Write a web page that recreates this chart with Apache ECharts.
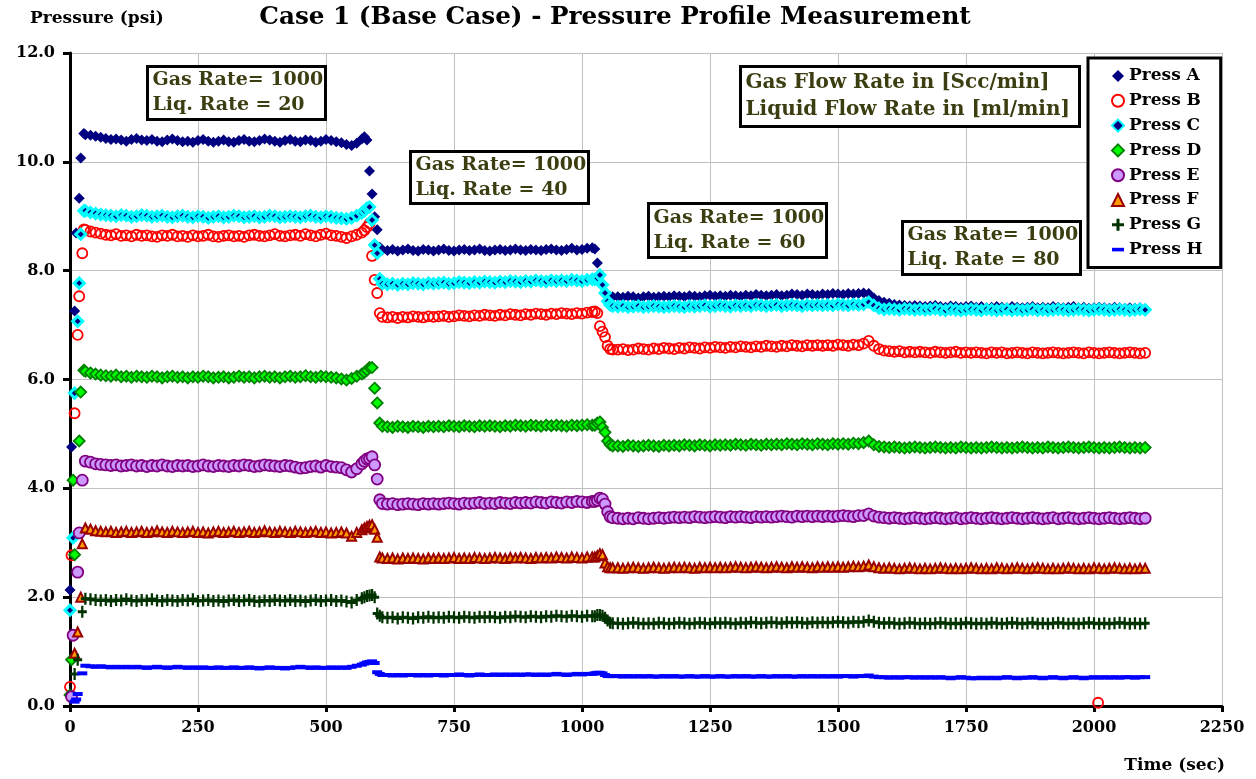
<!DOCTYPE html>
<html>
<head>
<meta charset="utf-8">
<script src="https://cdn.jsdelivr.net/npm/echarts@6/dist/echarts.min.js"></script>
<style>
  html, body { margin: 0; padding: 0; background: #ffffff; }
  #chart { width: 1256px; height: 779px; }
</style>
</head>
<body>
<div id="chart"></div>
<script>
// Sample times (sec): start-up, stage 1, step to 40, stage 2, step to 60, stages 3/4
const TIME = [
  0, 3, 6, 9, 12, 15, 18, 21, 24, 27,
  30, 40, 50, 60, 70, 80, 90, 100, 110, 120,
  130, 140, 150, 160, 170, 180, 190, 200, 210, 220,
  230, 240, 250, 260, 270, 280, 290, 300, 310, 320,
  330, 340, 350, 360, 370, 380, 390, 400, 410, 420,
  430, 440, 450, 460, 470, 480, 490, 500, 510, 520,
  530, 540, 550, 560, 570,
  575, 580, 585, 590, 595, 600, 605, 610,
  620, 630, 640, 650, 660, 670, 680, 690, 700, 710,
  720, 730, 740, 750, 760, 770, 780, 790, 800, 810,
  820, 830, 840, 850, 860, 870, 880, 890, 900, 910,
  920, 930, 940, 950, 960, 970, 980, 990, 1000, 1010,
  1020,
  1025, 1030, 1035, 1040, 1045, 1050, 1055, 1060,
  1070, 1080, 1090, 1100, 1110, 1120, 1130, 1140, 1150, 1160,
  1170, 1180, 1190, 1200, 1210, 1220, 1230, 1240, 1250, 1260,
  1270, 1280, 1290, 1300, 1310, 1320, 1330, 1340, 1350, 1360,
  1370, 1380, 1390, 1400, 1410, 1420, 1430, 1440, 1450, 1460,
  1470, 1480, 1490, 1500, 1510, 1520, 1530, 1540, 1550, 1560,
  1570, 1580, 1590, 1600, 1610, 1620, 1630, 1640, 1650, 1660,
  1670, 1680, 1690, 1700, 1710, 1720, 1730, 1740, 1750, 1760,
  1770, 1780, 1790, 1800, 1810, 1820, 1830, 1840, 1850, 1860,
  1870, 1880, 1890, 1900, 1910, 1920, 1930, 1940, 1950, 1960,
  1970, 1980, 1990, 2000, 2010, 2020, 2030, 2040, 2050, 2060,
  2070, 2080, 2090, 2100
];

// Pressure readings (psi), one value per sample time (null = no reading)
const PRESS_A = [
  2.13, 4.76, null, 7.26, 8.69, null, 9.33, 10.07, null, 10.52,
  10.50, 10.49, 10.47, 10.45, 10.43, 10.41, 10.42, 10.40, 10.38, 10.41,
  10.43, 10.40, 10.39, 10.41, 10.38, 10.37, 10.40, 10.42, 10.39, 10.37,
  10.38, 10.36, 10.39, 10.41, 10.38, 10.36, 10.38, 10.40, 10.37, 10.36,
  10.39, 10.41, 10.38, 10.37, 10.39, 10.42, 10.40, 10.38, 10.36, 10.39,
  10.41, 10.38, 10.37, 10.40, 10.39, 10.36, 10.38, 10.41, 10.39, 10.37,
  10.35, 10.32, 10.30, 10.34, 10.42,
  10.46, 10.40, 9.83, 9.41, 8.99, 8.75, 8.43, 8.38,
  8.37, 8.39, 8.36, 8.38, 8.40, 8.37, 8.36, 8.39, 8.38, 8.36,
  8.38, 8.40, 8.37, 8.36, 8.38, 8.39, 8.37, 8.38, 8.40, 8.37,
  8.36, 8.38, 8.39, 8.37, 8.38, 8.40, 8.38, 8.37, 8.39, 8.38,
  8.37, 8.39, 8.40, 8.38, 8.37, 8.39, 8.41, 8.38, 8.39, 8.41,
  8.42,
  8.40, 8.14, 7.94, 7.74, 7.59, 7.53, 7.52, 7.52,
  7.52, 7.51, 7.53, 7.52, 7.50, 7.52, 7.53, 7.51, 7.52, 7.53,
  7.52, 7.54, 7.53, 7.52, 7.54, 7.53, 7.52, 7.54, 7.55, 7.53,
  7.54, 7.53, 7.55, 7.54, 7.53, 7.55, 7.54, 7.56, 7.55, 7.54,
  7.55, 7.56, 7.54, 7.55, 7.57, 7.56, 7.55, 7.57, 7.56, 7.55,
  7.57, 7.56, 7.58, 7.57, 7.56, 7.58, 7.57, 7.58, 7.59, 7.58,
  7.50, 7.45, 7.42, 7.40, 7.38, 7.37, 7.36, 7.35, 7.36, 7.35,
  7.34, 7.35, 7.36, 7.34, 7.33, 7.35, 7.34, 7.33, 7.34, 7.35,
  7.33, 7.34, 7.32, 7.33, 7.34, 7.33, 7.32, 7.34, 7.33, 7.32,
  7.33, 7.34, 7.32, 7.33, 7.32, 7.34, 7.33, 7.32, 7.33, 7.34,
  7.32, 7.33, 7.31, 7.32, 7.33, 7.32, 7.31, 7.33, 7.32, 7.31,
  7.32, 7.31, 7.32, 7.30
];

const PRESS_B = [
  0.35, 2.77, null, 5.38, null, 6.82, 7.53, null, 8.32, 8.76,
  8.75, 8.72, 8.70, 8.68, 8.66, 8.65, 8.67, 8.64, 8.65, 8.63,
  8.66, 8.64, 8.65, 8.63, 8.62, 8.65, 8.64, 8.66, 8.63, 8.64,
  8.62, 8.65, 8.63, 8.64, 8.66, 8.63, 8.62, 8.64, 8.65, 8.63,
  8.64, 8.62, 8.65, 8.66, 8.64, 8.63, 8.65, 8.67, 8.64, 8.63,
  8.65, 8.66, 8.64, 8.67, 8.65, 8.63, 8.66, 8.68, 8.65, 8.64,
  8.62, 8.60, 8.63, 8.66, 8.70,
  8.74, 8.80, 8.87, 8.27, 7.83, 7.59, 7.22, 7.15,
  7.14, 7.15, 7.13, 7.15, 7.14, 7.16, 7.15, 7.14, 7.16, 7.15,
  7.16, 7.17, 7.15, 7.16, 7.18, 7.17, 7.16, 7.18, 7.17, 7.19,
  7.18, 7.17, 7.19, 7.18, 7.20, 7.19, 7.18, 7.20, 7.19, 7.21,
  7.20, 7.19, 7.21, 7.20, 7.22, 7.21, 7.20, 7.22, 7.21, 7.23,
  7.24,
  7.25, 7.22, 6.98, 6.88, 6.78, 6.62, 6.56, 6.55,
  6.55, 6.56, 6.54, 6.55, 6.57, 6.56, 6.55, 6.57, 6.56, 6.58,
  6.57, 6.56, 6.58, 6.57, 6.59, 6.58, 6.57, 6.59, 6.58, 6.60,
  6.59, 6.58, 6.60, 6.59, 6.61, 6.60, 6.59, 6.61, 6.60, 6.62,
  6.61, 6.60, 6.62, 6.61, 6.63, 6.62, 6.61, 6.63, 6.62, 6.63,
  6.62, 6.63, 6.62, 6.64, 6.63, 6.62, 6.64, 6.63, 6.66, 6.71,
  6.62, 6.56, 6.53, 6.52, 6.51, 6.52, 6.50, 6.51, 6.50, 6.51,
  6.50, 6.49, 6.51, 6.50, 6.49, 6.50, 6.51, 6.49, 6.50, 6.49,
  6.50, 6.49, 6.48, 6.50, 6.49, 6.50, 6.48, 6.49, 6.50, 6.49,
  6.48, 6.50, 6.49, 6.48, 6.49, 6.50, 6.49, 6.48, 6.49, 6.50,
  6.49, 6.48, 6.50, 6.49, 6.48, 6.49, 6.50, 6.49, 6.48, 6.49,
  6.50, 6.49, 6.48, 6.49
];
// a single low Press B reading late in the run: [time, psi]
const PRESS_B_DROPOUT = [2008, 0.06];

const PRESS_C = [
  1.76, null, 3.09, 5.75, null, 7.07, 7.77, 8.67, null, 9.10,
  9.10, 9.07, 9.05, 9.03, 9.02, 9.01, 9.00, 9.02, 9.01, 8.99,
  9.00, 9.02, 9.01, 8.99, 9.00, 9.01, 8.99, 8.98, 9.00, 9.01,
  8.99, 8.98, 9.00, 8.99, 8.97, 8.99, 9.00, 8.98, 8.99, 9.01,
  9.00, 8.98, 8.99, 9.00, 8.98, 8.99, 9.01, 9.00, 8.98, 8.99,
  9.00, 8.99, 8.98, 9.00, 9.01, 8.99, 8.98, 9.00, 8.99, 8.97,
  8.96, 8.95, 8.97, 9.01, 9.06,
  9.10, 9.15, 9.17, 8.93, 8.47, 8.32, 7.85, 7.76,
  7.75, 7.76, 7.74, 7.76, 7.75, 7.77, 7.76, 7.75, 7.77, 7.76,
  7.77, 7.78, 7.76, 7.77, 7.79, 7.78, 7.77, 7.79, 7.78, 7.80,
  7.79, 7.78, 7.80, 7.79, 7.81, 7.80, 7.79, 7.81, 7.80, 7.82,
  7.81, 7.80, 7.82, 7.81, 7.82, 7.81, 7.83, 7.82, 7.81, 7.83,
  7.84,
  7.84, 7.86, 7.92, 7.74, 7.59, 7.44, 7.37, 7.35,
  7.34, 7.35, 7.33, 7.34, 7.35, 7.33, 7.34, 7.35, 7.34, 7.33,
  7.34, 7.35, 7.34, 7.33, 7.35, 7.34, 7.35, 7.36, 7.34, 7.35,
  7.36, 7.35, 7.34, 7.36, 7.35, 7.36, 7.35, 7.37, 7.36, 7.35,
  7.36, 7.37, 7.35, 7.36, 7.37, 7.36, 7.35, 7.37, 7.36, 7.37,
  7.36, 7.37, 7.36, 7.38, 7.37, 7.36, 7.38, 7.37, 7.38, 7.42,
  7.36, 7.31, 7.29, 7.30, 7.29, 7.28, 7.30, 7.29, 7.28, 7.29,
  7.28, 7.29, 7.30, 7.28, 7.27, 7.29, 7.28, 7.27, 7.28, 7.29,
  7.28, 7.27, 7.29, 7.28, 7.27, 7.28, 7.29, 7.27, 7.28, 7.27,
  7.28, 7.29, 7.27, 7.28, 7.27, 7.28, 7.29, 7.28, 7.27, 7.28,
  7.29, 7.28, 7.27, 7.28, 7.29, 7.28, 7.27, 7.28, 7.29, 7.28,
  7.27, 7.28, 7.29, 7.28
];

const PRESS_D = [
  0.20, 0.85, 4.15, 2.78, null, null, 4.87, 5.77, null, 6.17,
  6.15, 6.12, 6.10, 6.08, 6.07, 6.06, 6.08, 6.05, 6.06, 6.04,
  6.06, 6.05, 6.04, 6.06, 6.05, 6.03, 6.05, 6.06, 6.04, 6.05,
  6.03, 6.05, 6.04, 6.06, 6.05, 6.03, 6.04, 6.05, 6.03, 6.04,
  6.06, 6.04, 6.05, 6.03, 6.05, 6.06, 6.04, 6.05, 6.03, 6.05,
  6.06, 6.04, 6.05, 6.07, 6.05, 6.04, 6.06, 6.05, 6.04, 6.03,
  6.01, 5.99, 6.02, 6.06, 6.10,
  6.13, 6.17, 6.22, 6.22, 5.84, 5.57, 5.20, 5.14,
  5.13, 5.12, 5.14, 5.13, 5.12, 5.14, 5.13, 5.12, 5.14, 5.13,
  5.14, 5.13, 5.15, 5.14, 5.13, 5.15, 5.14, 5.13, 5.15, 5.14,
  5.15, 5.14, 5.13, 5.15, 5.14, 5.16, 5.15, 5.14, 5.16, 5.15,
  5.14, 5.16, 5.15, 5.16, 5.15, 5.14, 5.16, 5.15, 5.16, 5.17,
  5.16,
  5.16, 5.20, 5.22, 5.12, 5.03, 4.87, 4.80, 4.78,
  4.78, 4.77, 4.79, 4.78, 4.77, 4.78, 4.79, 4.78, 4.77, 4.79,
  4.78, 4.79, 4.78, 4.80, 4.79, 4.78, 4.80, 4.79, 4.78, 4.80,
  4.79, 4.80, 4.79, 4.81, 4.80, 4.79, 4.81, 4.80, 4.79, 4.81,
  4.80, 4.81, 4.80, 4.82, 4.81, 4.80, 4.82, 4.81, 4.80, 4.82,
  4.81, 4.80, 4.82, 4.81, 4.82, 4.81, 4.83, 4.82, 4.84, 4.87,
  4.80, 4.77, 4.76, 4.75, 4.76, 4.75, 4.74, 4.75, 4.76, 4.75,
  4.74, 4.75, 4.76, 4.75, 4.74, 4.75, 4.74, 4.76, 4.75, 4.74,
  4.75, 4.74, 4.75, 4.76, 4.75, 4.74, 4.75, 4.74, 4.75, 4.76,
  4.75, 4.74, 4.75, 4.74, 4.76, 4.75, 4.74, 4.75, 4.76, 4.75,
  4.74, 4.75, 4.76, 4.75, 4.74, 4.75, 4.74, 4.75, 4.76, 4.75,
  4.74, 4.75, 4.74, 4.75
];

const PRESS_E = [
  null, 0.17, 1.30, null, null, 2.46, 3.18, null, 4.15, null,
  4.50, 4.48, 4.45, 4.44, 4.43, 4.42, 4.43, 4.41, 4.42, 4.43,
  4.41, 4.42, 4.40, 4.42, 4.41, 4.43, 4.41, 4.40, 4.42, 4.41,
  4.42, 4.40, 4.41, 4.43, 4.41, 4.40, 4.42, 4.41, 4.40, 4.42,
  4.41, 4.43, 4.42, 4.40, 4.41, 4.43, 4.42, 4.41, 4.40, 4.42,
  4.41, 4.39, 4.37, 4.38, 4.40, 4.41, 4.39, 4.42, 4.40, 4.39,
  4.38, 4.34, 4.30, 4.36, 4.45,
  4.50, 4.54, 4.55, 4.58, 4.43, 4.17, 3.79, 3.72,
  3.71, 3.72, 3.70, 3.71, 3.72, 3.71, 3.70, 3.72, 3.71, 3.72,
  3.71, 3.72, 3.73, 3.72, 3.71, 3.73, 3.72, 3.73, 3.74, 3.72,
  3.73, 3.72, 3.74, 3.73, 3.72, 3.74, 3.73, 3.74, 3.73, 3.75,
  3.74, 3.73, 3.75, 3.74, 3.73, 3.75, 3.74, 3.76, 3.75, 3.74,
  3.76,
  3.76, 3.78, 3.82, 3.80, 3.71, 3.57, 3.48, 3.46,
  3.45, 3.44, 3.45, 3.44, 3.46, 3.45, 3.44, 3.45, 3.46, 3.45,
  3.46, 3.47, 3.46, 3.47, 3.46, 3.48, 3.47, 3.46, 3.47, 3.48,
  3.47, 3.46, 3.48, 3.47, 3.48, 3.47, 3.46, 3.48, 3.47, 3.48,
  3.47, 3.48, 3.49, 3.48, 3.47, 3.49, 3.48, 3.49, 3.48, 3.49,
  3.48, 3.49, 3.48, 3.49, 3.50, 3.49, 3.48, 3.50, 3.50, 3.53,
  3.49, 3.47, 3.46, 3.45, 3.46, 3.45, 3.44, 3.45, 3.46, 3.45,
  3.44, 3.45, 3.46, 3.45, 3.44, 3.45, 3.46, 3.44, 3.45, 3.46,
  3.45, 3.44, 3.45, 3.46, 3.45, 3.44, 3.45, 3.46, 3.45, 3.44,
  3.45, 3.46, 3.45, 3.44, 3.45, 3.46, 3.44, 3.45, 3.46, 3.45,
  3.44, 3.45, 3.46, 3.45, 3.44, 3.45, 3.46, 3.45, 3.44, 3.45,
  3.46, 3.45, 3.44, 3.45
];

const PRESS_F = [
  null, null, null, 0.97, null, 1.36, null, 2.00, 2.98, null,
  3.27, 3.25, 3.22, 3.21, 3.20, 3.21, 3.19, 3.20, 3.21, 3.19,
  3.20, 3.21, 3.19, 3.20, 3.22, 3.20, 3.19, 3.21, 3.20, 3.19,
  3.20, 3.21, 3.19, 3.20, 3.18, 3.20, 3.21, 3.19, 3.20, 3.21,
  3.19, 3.20, 3.21, 3.19, 3.20, 3.22, 3.20, 3.19, 3.21, 3.20,
  3.19, 3.21, 3.20, 3.19, 3.20, 3.21, 3.19, 3.20, 3.18, 3.19,
  3.20, 3.18, 3.12, 3.19, 3.24,
  3.27, 3.30, 3.32, 3.33, 3.25, 3.10, 2.74, 2.72,
  2.71, 2.72, 2.70, 2.72, 2.71, 2.72, 2.71, 2.70, 2.72, 2.71,
  2.72, 2.71, 2.72, 2.73, 2.71, 2.72, 2.71, 2.73, 2.72, 2.71,
  2.72, 2.73, 2.72, 2.71, 2.73, 2.72, 2.73, 2.72, 2.71, 2.73,
  2.72, 2.73, 2.72, 2.74, 2.73, 2.72, 2.74, 2.73, 2.72, 2.74,
  2.74,
  2.74, 2.76, 2.80, 2.78, 2.63, 2.56, 2.54, 2.54,
  2.54, 2.53, 2.54, 2.55, 2.54, 2.53, 2.54, 2.55, 2.54, 2.53,
  2.54, 2.55, 2.54, 2.55, 2.54, 2.53, 2.55, 2.54, 2.55, 2.54,
  2.55, 2.54, 2.55, 2.56, 2.55, 2.54, 2.55, 2.56, 2.55, 2.54,
  2.55, 2.56, 2.55, 2.54, 2.56, 2.55, 2.56, 2.55, 2.54, 2.56,
  2.55, 2.56, 2.55, 2.56, 2.55, 2.56, 2.57, 2.56, 2.57, 2.59,
  2.56, 2.54, 2.53, 2.54, 2.53, 2.52, 2.53, 2.54, 2.53, 2.52,
  2.53, 2.52, 2.53, 2.54, 2.53, 2.52, 2.53, 2.52, 2.53, 2.54,
  2.53, 2.52, 2.53, 2.52, 2.54, 2.53, 2.52, 2.53, 2.54, 2.53,
  2.52, 2.53, 2.54, 2.53, 2.52, 2.53, 2.52, 2.53, 2.54, 2.53,
  2.52, 2.53, 2.52, 2.54, 2.53, 2.52, 2.53, 2.54, 2.53, 2.52,
  2.53, 2.52, 2.53, 2.53
];

const PRESS_G = [
  null, null, null, 0.59, null, 0.85, null, null, 1.73, null,
  1.97, 1.96, 1.95, 1.94, 1.95, 1.93, 1.95, 1.94, 1.96, 1.94,
  1.93, 1.95, 1.94, 1.96, 1.94, 1.93, 1.95, 1.94, 1.93, 1.95,
  1.94, 1.96, 1.93, 1.94, 1.95, 1.93, 1.94, 1.92, 1.94, 1.95,
  1.93, 1.94, 1.95, 1.93, 1.92, 1.94, 1.93, 1.95, 1.94, 1.93,
  1.95, 1.93, 1.94, 1.92, 1.94, 1.95, 1.93, 1.94, 1.95, 1.93,
  1.94, 1.92, 1.90, 1.95, 1.98,
  2.00, 2.02, 2.03, 2.04, 2.00, 1.70, 1.66, 1.63,
  1.62, 1.63, 1.61, 1.63, 1.62, 1.61, 1.63, 1.62, 1.64, 1.62,
  1.63, 1.62, 1.64, 1.63, 1.62, 1.64, 1.63, 1.62, 1.64, 1.63,
  1.64, 1.63, 1.62, 1.64, 1.63, 1.65, 1.64, 1.63, 1.65, 1.64,
  1.63, 1.65, 1.64, 1.66, 1.65, 1.64, 1.66, 1.65, 1.64, 1.66,
  1.65,
  1.65, 1.67, 1.67, 1.66, 1.62, 1.57, 1.53, 1.52,
  1.52, 1.51, 1.52, 1.53, 1.52, 1.51, 1.52, 1.51, 1.53, 1.52,
  1.51, 1.52, 1.53, 1.52, 1.51, 1.52, 1.53, 1.52, 1.51, 1.53,
  1.52, 1.53, 1.52, 1.51, 1.53, 1.52, 1.54, 1.53, 1.52, 1.53,
  1.54, 1.53, 1.52, 1.54, 1.53, 1.54, 1.53, 1.52, 1.54, 1.53,
  1.54, 1.53, 1.54, 1.55, 1.54, 1.53, 1.55, 1.54, 1.55, 1.57,
  1.55, 1.53, 1.52, 1.53, 1.52, 1.51, 1.52, 1.53, 1.52, 1.51,
  1.52, 1.51, 1.52, 1.53, 1.52, 1.51, 1.52, 1.51, 1.53, 1.52,
  1.51, 1.52, 1.51, 1.53, 1.52, 1.51, 1.52, 1.53, 1.52, 1.51,
  1.52, 1.53, 1.51, 1.52, 1.51, 1.52, 1.53, 1.52, 1.51, 1.52,
  1.51, 1.52, 1.53, 1.52, 1.51, 1.52, 1.51, 1.52, 1.53, 1.52,
  1.51, 1.52, 1.51, 1.52
];

const PRESS_H = [
  null, null, null, 0.08, 0.12, 0.22, null, null, 0.60, null,
  0.74, 0.73, 0.72, 0.73, 0.72, 0.71, 0.72, 0.71, 0.72, 0.71,
  0.72, 0.71, 0.70, 0.71, 0.72, 0.71, 0.70, 0.71, 0.72, 0.71,
  0.70, 0.71, 0.70, 0.71, 0.70, 0.70, 0.71, 0.70, 0.70, 0.71,
  0.70, 0.70, 0.71, 0.70, 0.69, 0.70, 0.71, 0.70, 0.70, 0.69,
  0.70, 0.71, 0.72, 0.71, 0.70, 0.71, 0.70, 0.70, 0.71, 0.70,
  0.71, 0.70, 0.72, 0.74, 0.76,
  0.78, 0.80, 0.81, 0.82, 0.79, 0.62, 0.59, 0.57,
  0.57, 0.56, 0.57, 0.56, 0.57, 0.57, 0.56, 0.57, 0.56, 0.57,
  0.57, 0.56, 0.57, 0.57, 0.58, 0.57, 0.56, 0.57, 0.58, 0.57,
  0.57, 0.58, 0.57, 0.58, 0.57, 0.58, 0.57, 0.58, 0.58, 0.57,
  0.58, 0.57, 0.58, 0.59, 0.58, 0.57, 0.58, 0.59, 0.58, 0.59,
  0.59,
  0.60, 0.61, 0.61, 0.60, 0.57, 0.55, 0.55, 0.55,
  0.55, 0.54, 0.55, 0.54, 0.55, 0.54, 0.55, 0.54, 0.54, 0.55,
  0.54, 0.55, 0.54, 0.54, 0.55, 0.54, 0.54, 0.55, 0.54, 0.54,
  0.55, 0.54, 0.54, 0.55, 0.54, 0.55, 0.54, 0.54, 0.55, 0.54,
  0.54, 0.55, 0.54, 0.55, 0.54, 0.54, 0.55, 0.54, 0.55, 0.54,
  0.55, 0.54, 0.55, 0.54, 0.55, 0.55, 0.54, 0.55, 0.55, 0.56,
  0.54, 0.53, 0.53, 0.52, 0.53, 0.52, 0.53, 0.53, 0.52, 0.53,
  0.52, 0.53, 0.52, 0.53, 0.52, 0.51, 0.52, 0.53, 0.52, 0.51,
  0.51, 0.52, 0.51, 0.52, 0.51, 0.52, 0.53, 0.52, 0.51, 0.52,
  0.52, 0.53, 0.52, 0.51, 0.52, 0.53, 0.52, 0.51, 0.52, 0.53,
  0.52, 0.51, 0.52, 0.53, 0.52, 0.53, 0.52, 0.53, 0.52, 0.53,
  0.53, 0.52, 0.53, 0.53
];

const SERIES_NAMES = ['Press A', 'Press B', 'Press C', 'Press D', 'Press E', 'Press F', 'Press G', 'Press H'];
const X_TICKS = { min: 0, max: 2250, step: 250 };
const Y_TICKS = { min: 0, max: 12, step: 2 };

// flow-rate annotation boxes: [line 1, line 2]
const STAGE_NOTES = [
  ['Gas Rate= 1000', 'Liq. Rate = 20'],
  ['Gas Rate= 1000', 'Liq. Rate = 40'],
  ['Gas Rate= 1000', 'Liq. Rate = 60'],
  ['Gas Rate= 1000', 'Liq. Rate = 80']
];
const UNITS_NOTE = ['Gas Flow Rate in [Scc/min]', 'Liquid Flow Rate in [ml/min]'];

const SERIF = "'DejaVu Serif', 'Liberation Serif', serif";

function pairs(values) {
  const out = [];
  values.forEach((v, i) => { if (v !== null) out.push([TIME[i], v]); });
  return out;
}

const PLUS = 'path://M3,0H5V3H8V5H5V8H3V5H0V3H3Z';
const DASH = 'path://M0,0H10V3H0Z';

const markerStyles = [
  { symbol: 'diamond', symbolSize: 11, itemStyle: { color: '#000080' } },
  { symbol: 'circle', symbolSize: 10, itemStyle: { color: 'rgba(255,255,255,0)', borderColor: '#ff0000', borderWidth: 1.8 } },
  { symbol: 'diamond', symbolSize: 10, itemStyle: { color: '#000080', borderColor: '#00ffff', borderWidth: 3 } },
  { symbol: 'diamond', symbolSize: 11, itemStyle: { color: '#00ff00', borderColor: '#008000', borderWidth: 1.8 } },
  { symbol: 'circle', symbolSize: 11, itemStyle: { color: '#cc99ff', borderColor: '#800080', borderWidth: 1.8 } },
  { symbol: 'triangle', symbolSize: 9, itemStyle: { color: '#ff9900', borderColor: '#990000', borderWidth: 2 } },
  { symbol: PLUS, symbolSize: [9, 12], itemStyle: { color: '#003300' } },
  { symbol: DASH, symbolSize: [10, 4], itemStyle: { color: '#0000ff' } }
];

const seriesData = [
  pairs(PRESS_A),
  pairs(PRESS_B).concat([PRESS_B_DROPOUT]),
  pairs(PRESS_C),
  pairs(PRESS_D),
  pairs(PRESS_E),
  pairs(PRESS_F),
  pairs(PRESS_G),
  pairs(PRESS_H)
];

const series = SERIES_NAMES.map((name, i) => {
  const m = markerStyles[i];
  return {
    name: name,
    type: 'scatter',
    data: seriesData[i],
    symbol: m.symbol,
    symbolSize: m.symbolSize,
    itemStyle: Object.assign({ opacity: 1 }, m.itemStyle),
    emphasis: { disabled: true },
    z: 2
  };
});

// boxed two-line note, drawn above grid lines and markers
function noteBox(x, y, w, h, lines, size, lineGap) {
  const font = 'bold ' + size + 'px ' + SERIF;
  return {
    type: 'group', x: x, y: y, z: 100,
    children: [
      { type: 'rect', z: 100, shape: { x: 0, y: 0, width: w, height: h },
        style: { fill: '#ffffff', stroke: '#000000', lineWidth: 3 } },
      { type: 'text', z: 101, x: 5, y: h / 2 - lineGap / 2,
        style: { text: lines[0], font: font, fill: '#3d3d12', textVerticalAlign: 'middle' } },
      { type: 'text', z: 101, x: 5, y: h / 2 + lineGap / 2,
        style: { text: lines[1], font: font, fill: '#3d3d12', textVerticalAlign: 'middle' } }
    ]
  };
}

const chart = echarts.init(document.getElementById('chart'), null, { renderer: 'canvas' });

chart.setOption({
  animation: false,
  backgroundColor: '#ffffff',
  grid: { left: 70, right: 34, top: 53, bottom: 73 },
  xAxis: {
    type: 'value',
    min: X_TICKS.min, max: X_TICKS.max, interval: X_TICKS.step,
    axisLine: { show: true, onZero: false, lineStyle: { color: '#000', width: 3 } },
    axisTick: { show: true, length: 6, lineStyle: { color: '#000', width: 3 } },
    axisLabel: { color: '#000', fontFamily: SERIF, fontWeight: 'bold', fontSize: 16, margin: 14,
                 formatter: v => String(v) },
    splitLine: { show: true, lineStyle: { color: '#c0c0c0', width: 1 } }
  },
  yAxis: {
    type: 'value',
    min: Y_TICKS.min, max: Y_TICKS.max, interval: Y_TICKS.step,
    axisLine: { show: true, lineStyle: { color: '#000', width: 3 } },
    axisTick: { show: true, length: 7, lineStyle: { color: '#000', width: 3 } },
    axisLabel: { color: '#000', fontFamily: SERIF, fontWeight: 'bold', fontSize: 16, margin: 15,
                 formatter: v => v.toFixed(1) },
    splitLine: { show: true, lineStyle: { color: '#c0c0c0', width: 1 } }
  },
  legend: {
    orient: 'vertical',
    left: 1088, top: 58,
    padding: [9, 18, 9, 23],
    itemGap: 6.8,
    itemWidth: 12, itemHeight: 12,
    backgroundColor: '#ffffff',
    borderColor: '#000000', borderWidth: 3,
    textStyle: { color: '#000', fontFamily: SERIF, fontWeight: 'bold', fontSize: 17, lineHeight: 18 },
    data: SERIES_NAMES,
    z: 10
  },
  series: series,
  graphic: {
    elements: [
      { type: 'text', x: 615, y: 18,
        style: { text: 'Case 1 (Base Case) - Pressure Profile Measurement', font: 'bold 24.7px ' + SERIF,
                 fill: '#000', textAlign: 'center', textVerticalAlign: 'middle' } },
      { type: 'text', x: 30, y: 19,
        style: { text: 'Pressure (psi)', font: 'bold 17px ' + SERIF, fill: '#000', textVerticalAlign: 'middle' } },
      { type: 'text', x: 1225, y: 766,
        style: { text: 'Time (sec)', font: 'bold 17px ' + SERIF, fill: '#000', textAlign: 'right', textVerticalAlign: 'middle' } },
      noteBox(147.5, 66.5, 178, 53, STAGE_NOTES[0], 19, 25),
      noteBox(410.5, 151.5, 178, 52, STAGE_NOTES[1], 19, 25),
      noteBox(648.5, 203.5, 178, 54, STAGE_NOTES[2], 19, 25),
      noteBox(902.5, 221.5, 178, 53, STAGE_NOTES[3], 19, 25),
      noteBox(740.5, 66.5, 339, 60, UNITS_NOTE, 20, 27)
    ]
  }
});
</script>
</body>
</html>
